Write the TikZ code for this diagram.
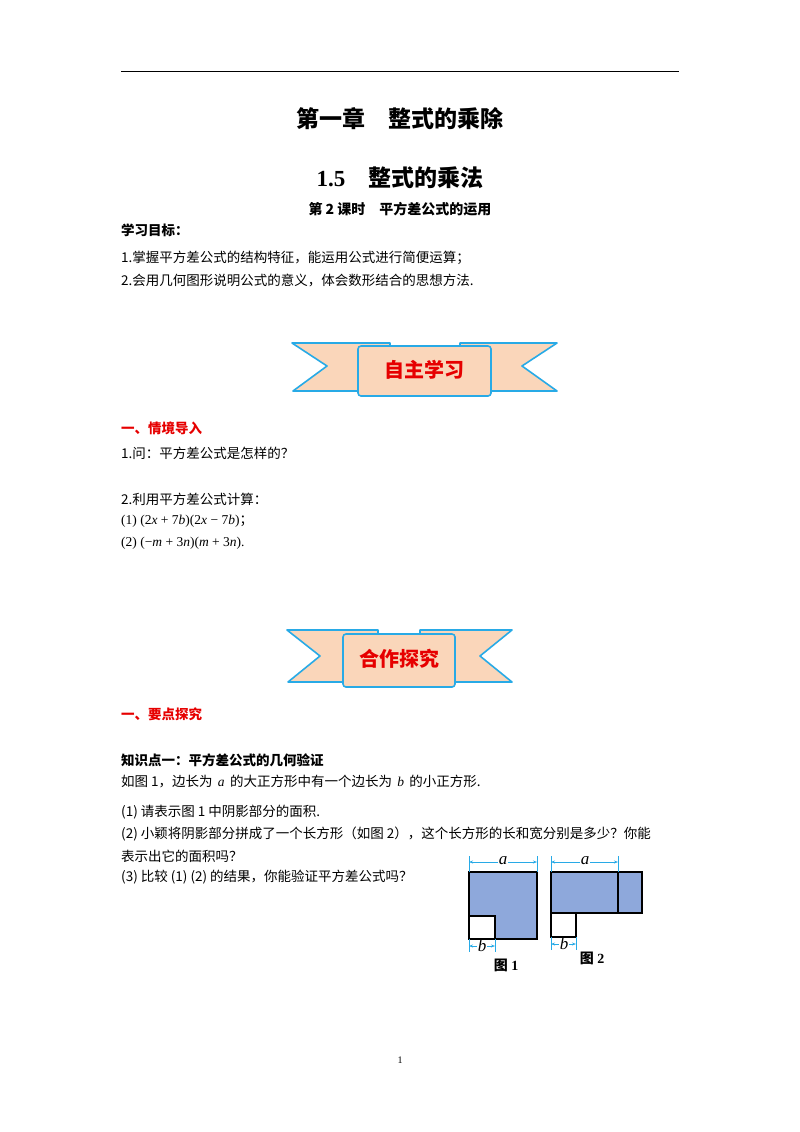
\documentclass[tikz,border=0pt]{standalone}
\usepackage{fontspec}
\setmainfont{Liberation Serif}
\newfontfamily\cjk{Noto Sans CJK SC}
\usetikzlibrary{arrows.meta}
\definecolor{peach}{RGB}{250,214,186}
\definecolor{cyanb}{RGB}{40,170,230}
\definecolor{fillb}{RGB}{142,168,219}
\definecolor{redt}{RGB}{230,0,0}
\newcommand{\vi}[1]{\textit{#1}}
\tikzset{
 txt/.style={anchor=west,inner sep=0,font=\fontsize{13.5}{15}\selectfont\cjk},
 ban/.style={fill=peach,draw=cyanb,line width=1.6pt,line join=round},
 dim/.style={cyanb,line width=0.6pt,{Stealth[length=4pt]}-{Stealth[length=4pt]}},
 fig/.style={draw=black,line width=1.2pt},
}
\begin{document}
\begin{tikzpicture}[x=1pt,y=-1pt]
\useasboundingbox (0,0) rectangle (800,1132);
\draw[line width=1pt] (121,72) -- (679,72);
\node[font=\fontsize{23}{26}\selectfont\cjk\bfseries] (t1) at (400,119) {第一章\quad 整式的乘除};
\node[font=\fontsize{23}{26}\selectfont\bfseries] (t2) at (400,178) {1.5\quad{\cjk 整式的乘法}};
\node[font=\fontsize{14}{16}\selectfont\cjk\bfseries] (t3) at (400,209) {第 2 课时\quad 平方差公式的运用};
\node[txt,font=\fontsize{13.5}{15}\selectfont\cjk\bfseries] (g0) at (121,230) {学习目标：};
\node[txt] (g1) at (121,258) {1.掌握平方差公式的结构特征，能运用公式进行简便运算；};
\node[txt] (g2) at (121,280) {2.会用几何图形说明公式的意义，体会数形结合的思想方法.};
% banner 1
\path[ban] (292,343) -- (390,343) -- (390,391) -- (293,391) -- (327,366) -- cycle;
\path[ban] (557,343) -- (460,343) -- (460,391) -- (557,391) -- (522,366) -- cycle;
\path[ban,rounded corners=3pt] (358,346) rectangle (491,396);
\node[font=\fontsize{20}{22}\selectfont\cjk\bfseries,text=redt] (b1) at (424.5,370) {自主学习};
\node[txt,font=\fontsize{13.5}{15}\selectfont\cjk\bfseries,text=redt] (h1) at (121,428) {一、情境导入};
\node[txt] (q1) at (121,453) {1.问：平方差公式是怎样的？};
\node[txt] (q2) at (121,499) {2.利用平方差公式计算：};
\node[txt] (q3) at (121,521) {\rmfamily (1) (2\vi{x} + 7\vi{b})(2\vi{x} − 7\vi{b}){\cjk ；}};
\node[txt] (q4) at (121,543) {\rmfamily (2) (−\vi{m} + 3\vi{n})(\vi{m} + 3\vi{n}).};
% banner 2
\path[ban] (287,630) -- (378,630) -- (378,682) -- (288,682) -- (320,656) -- cycle;
\path[ban] (512,630) -- (420,630) -- (420,682) -- (512,682) -- (480,656) -- cycle;
\path[ban,rounded corners=3pt] (343,634) rectangle (455,687);
\node[font=\fontsize{20}{22}\selectfont\cjk\bfseries,text=redt] (b2) at (399,659) {合作探究};
\node[txt,font=\fontsize{13.5}{15}\selectfont\cjk\bfseries,text=redt] (h2) at (121,714) {一、要点探究};
\node[txt,font=\fontsize{13.5}{15}\selectfont\cjk\bfseries] (k0) at (121,760) {知识点一：平方差公式的几何验证};
\node[txt] (k1) at (121,782) {如图 1，边长为 \,{\rmfamily\vi{a}}\, 的大正方形中有一个边长为 \,{\rmfamily\vi{b}}\, 的小正方形.};
\node[txt] (k2) at (121,812) {(1) 请表示图 1 中阴影部分的面积.};
\node[txt] (k3) at (121,834) {(2) 小颖将阴影部分拼成了一个长方形（如图 2），这个长方形的长和宽分别是多少？你能};
\node[txt] (k4) at (121,856) {表示出它的面积吗？};
\node[txt] (k5) at (121,877) {(3) 比较 (1) (2) 的结果，你能验证平方差公式吗？};
% figure 1
\path[fig,fill=fillb] (469,872) -- (537,872) -- (537,939) -- (495,939) -- (495,916) -- (469,916) -- cycle;
\draw[fig] (469,916) rectangle (495,939);
\draw[cyanb,line width=0.6pt] (469,856) -- (469,872) (537,856) -- (537,872) (469,939) -- (469,952) (495,939) -- (495,952);
\draw[dim] (469,862) -- (537,862);
\draw[dim] (469,946) -- (495,946);
\node[fill=white,inner sep=1pt,font=\fontsize{17}{18}\selectfont\itshape] (fa) at (503,861) {a};
\node[fill=white,inner sep=0.5pt,font=\fontsize{17}{18}\selectfont\itshape] (fb) at (482,946) {b};
\node[font=\fontsize{14}{16}\selectfont\bfseries] (f1) at (506,965) {{\cjk 图} 1};
% figure 2
\draw[fig,fill=fillb] (551,872) rectangle (642,913);
\draw[fig] (618,872) -- (618,913);
\draw[fig] (551,913) rectangle (576,937);
\draw[cyanb,line width=0.6pt] (551,856) -- (551,872) (618,856) -- (618,872) (551,937) -- (551,950) (576,937) -- (576,950);
\draw[dim] (551,862) -- (618,862);
\draw[dim] (551,944) -- (576,944);
\node[fill=white,inner sep=1pt,font=\fontsize{17}{18}\selectfont\itshape] (ga) at (585,861) {a};
\node[fill=white,inner sep=0.5pt,font=\fontsize{17}{18}\selectfont\itshape] (gb) at (564,944) {b};
\node[font=\fontsize{14}{16}\selectfont\bfseries] (f2) at (592,958) {{\cjk 图} 2};
\node[font=\fontsize{10}{12}\selectfont] (pg) at (400,1060) {1};
\end{tikzpicture}
\end{document}
